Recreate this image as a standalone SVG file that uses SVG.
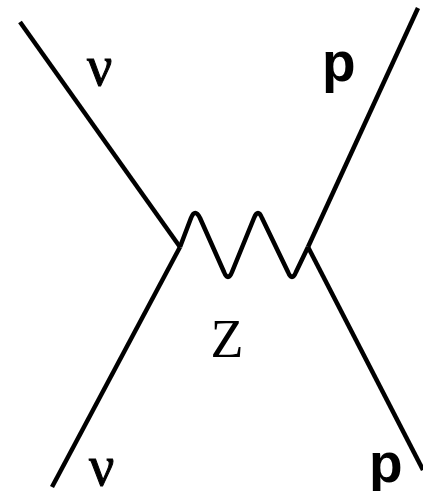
<svg xmlns="http://www.w3.org/2000/svg" width="423" height="491" viewBox="0 0 423 491">
<style>
.l{fill:none;stroke:#000;stroke-width:4.5;stroke-linecap:butt;stroke-linejoin:round}
.g{font-family:"Liberation Serif",serif;font-size:54px;fill:#000}
.n{font-family:"Liberation Serif",serif;font-size:56px;fill:#000;stroke:#000;stroke-width:1}
.p{font-family:"Liberation Sans",Arial,sans-serif;font-weight:bold;font-size:55px;fill:#000}
</style>
<rect width="423" height="491" fill="#fff"/>
<g id="connectors">
<path class="l" d="M20,22 L180,247"/>
<path class="l" d="M180,247 L52,487"/>
<path class="l" d="M418,8 L308,247"/>
<path class="l" d="M308,247 L423,470"/>
<path class="l" d="M180,247 L191,218 Q195,208 200,218 L224,272 Q228,282 232,272 L254,218 Q258,208 262,218 L288,272 Q292,282 296,272 L308,247"/>
</g>
<g id="nu-top"><text class="n" x="87" y="85">ν</text></g>
<g id="p-top"><text class="p" x="322" y="81">p</text></g>
<g id="Z"><text class="g" x="227" y="357" text-anchor="middle" font-size="59">Z</text></g>
<g id="nu-bottom"><text class="n" x="89" y="485">ν</text></g>
<g id="p-bottom"><text class="p" x="369" y="482">p</text></g>
</svg>
